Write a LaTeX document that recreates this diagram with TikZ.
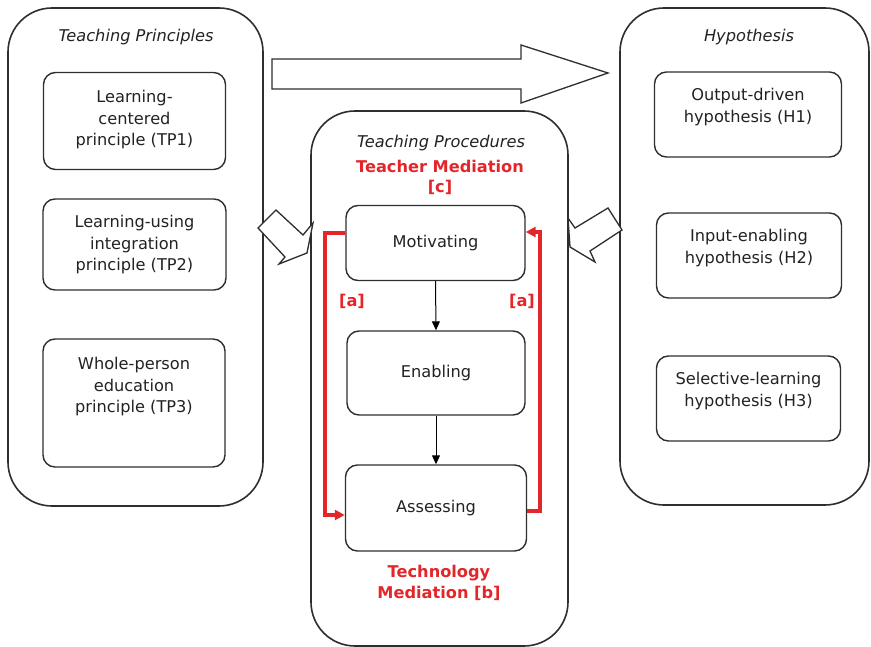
\documentclass[tikz,border=0pt]{standalone}
\usepackage{fontspec}
\setmainfont{DejaVu Sans}
\usetikzlibrary{arrows.meta}
\definecolor{ink}{HTML}{2E2E2E}
\definecolor{txtgray}{HTML}{222222}
\definecolor{medred}{HTML}{E3262A}
\newcommand{\boxfont}{\fontsize{16.2}{21.5}\selectfont}
\tikzset{
  panel/.style={draw=ink, line width=1.6pt, rounded corners=44pt},
  box/.style={draw=ink, line width=1.4pt, rounded corners=12pt, inner sep=0pt},
  txt/.style={text=txtgray, align=center, font=\boxfont, inner sep=0pt},
  ttl/.style={text=txtgray, font=\boxfont\itshape, inner sep=0pt},
  redtxt/.style={text=medred, align=center, font=\boxfont\bfseries, inner sep=0pt},
  redline/.style={draw=medred, line width=3.2pt, -{Triangle[length=10pt,width=10pt]}},
  flowarrow/.style={draw=black, line width=1pt, -{Triangle[length=9pt,width=8pt]}},
  hollow/.style={draw=ink, line width=1.3pt, fill=white, line join=miter}
}
\begin{document}
\begin{tikzpicture}[x=1pt, y=-1pt]
\useasboundingbox (0,0) rectangle (871,647);

% outer panels
\draw[panel] (8,8) rectangle (263,506);
\draw[panel] (620,8) rectangle (869,505);
\draw[panel] (311,111) rectangle (568,646);

% panel titles
\node[ttl] (tpttl) at (136,37) {Teaching Principles};
\node[ttl] (hyttl) at (749,37) {Hypothesis};
\node[ttl] (prttl) at (441,143) {Teaching Procedures};
\node[redtxt] (tmed) at (440,166) {Teacher Mediation};
\node[redtxt] (tmedc) at (440,187) {[c]};
\node[redtxt] (techm) at (439,583) {Technology\\Mediation [b]};

% teaching principles
\node[box, minimum width=182pt, minimum height=97pt] (tp1) at (134.5,121) {};
\node[txt] at (134.5,120) {Learning-\\centered\\principle (TP1)};
\node[box, minimum width=183pt, minimum height=91pt] (tp2) at (134.5,244.5) {};
\node[txt] at (134.5,245) {Learning-using\\integration\\principle (TP2)};
\node[box, minimum width=182pt, minimum height=128pt] (tp3) at (134,403) {};
\node[txt] at (134,387) {Whole-person\\education\\principle (TP3)};

% hypotheses
\node[box, minimum width=187pt, minimum height=85pt] (h1) at (748,114.5) {};
\node[txt] at (748,107) {Output-driven\\hypothesis (H1)};
\node[box, minimum width=185pt, minimum height=85pt] (h2) at (749,255.5) {};
\node[txt] at (749,248) {Input-enabling\\hypothesis (H2)};
\node[box, minimum width=184pt, minimum height=85pt] (h3) at (748.5,398.5) {};
\node[txt] at (748.5,391) {Selective-learning\\hypothesis (H3)};

% teaching procedures
\node[box, txt, minimum width=179pt, minimum height=75pt] (mot) at (435.5,243) {Motivating};
\node[box, txt, minimum width=178pt, minimum height=84pt] (ena) at (436,373) {Enabling};
\node[box, txt, minimum width=181pt, minimum height=86pt] (ass) at (436,508) {Assessing};

\draw[flowarrow] (mot.south) -- (ena.north);
\draw[flowarrow] (ena.south) -- (ass.north);

% mediation loops
\draw[redline] ([yshift=10pt]mot.west) -| (325,400) |- ([yshift=-7pt]ass.west);
\draw[redline] ([yshift=-3pt]ass.east) -| (540,400) |- ([yshift=11pt]mot.east);
\node[redtxt] (al) at (352,301) {[a]};
\node[redtxt] (ar) at (522,301) {[a]};

% block arrows between panels
\draw[hollow] (272,59) -- (521,59) -- (521,45) -- (608,73) -- (521,103) -- (521,89) -- (272,89) -- cycle;
\draw[hollow] (258,228) -- (276,210) -- (303,235) -- (313,223) -- (307,253) -- (279,264) -- (285,257) -- cycle;
\draw[hollow] (608,208) -- (622,230) -- (590,251) -- (595,262) -- (570,247) -- (568,218) -- (575,228) -- cycle;
\end{tikzpicture}
\end{document}
